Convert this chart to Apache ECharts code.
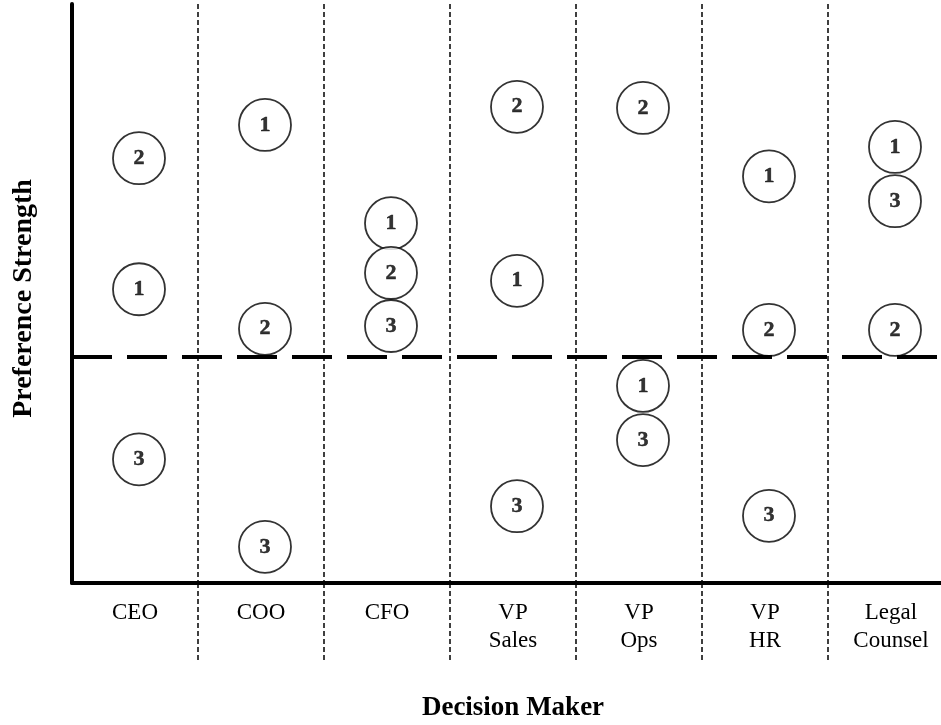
<!DOCTYPE html>
<html>
<head>
<meta charset="utf-8">
<script src="https://cdn.jsdelivr.net/npm/echarts@6/dist/echarts.min.js"></script>
<style>
  html, body { margin: 0; padding: 0; background: #fff; }
  #chart { width: 941px; height: 725px; }
</style>
</head>
<body>
<div id="chart"></div>
<script>
// decision makers along the x axis
var categories = ['CEO', 'COO', 'CFO', 'VP\nSales', 'VP\nOps', 'VP\nHR', 'Legal\nCounsel'];
// preference strength of each option per decision maker (0 = neutral line)
var option1 = [1.20, 4.11, 2.37, 1.35, -0.51, 3.20, 3.72];
var option2 = [3.52, 0.50, 1.49, 4.43, 4.41, 0.48, 0.48];
var option3 = [-1.81, -3.36, 0.55, -2.64, -1.47, -2.81, 2.76];
var neutral = 0;

var serif = 'Liberation Serif';

function makeSeries(name, values) {
    return {
        name: name,
        type: 'scatter',
        z: 3,
        symbol: 'circle',
        symbolSize: 52,
        symbolOffset: [4, 0],
        itemStyle: { color: '#fff', borderColor: '#000', borderWidth: 1.8 },
        label: {
            show: true,
            position: 'inside',
            formatter: name,
            color: '#000',
            fontFamily: serif,
            fontWeight: 'bold',
            fontSize: 22,
            textBorderColor: '#000',
            textBorderWidth: 0.5
        },
        emphasis: { disabled: true },
        data: values.map(function (v, i) { return [i, v]; })
    };
}

var chart = echarts.init(document.getElementById('chart'));

var option = {
    animation: false,
    backgroundColor: '#fff',
    grid: { left: 72, width: 882, top: 4, bottom: 142, outerBoundsMode: 'none', containLabel: false },
    xAxis: {
        type: 'category',
        data: categories,
        boundaryGap: true,
        name: 'Decision Maker',
        nameLocation: 'middle',
        nameGap: 112,
        nameTextStyle: { fontFamily: serif, fontWeight: 'bold', fontSize: 27, color: '#000' },
        axisLine: { show: true, onZero: false, lineStyle: { color: '#000', width: 4 } },
        axisTick: {
            show: true,
            length: 77,
            interval: function (i) { return i > 0; },
            lineStyle: { color: '#000', width: 1.5, type: [5, 3] }
        },
        axisLabel: {
            interval: 0,
            margin: 16,
            fontFamily: serif,
            fontSize: 23,
            lineHeight: 28,
            color: '#000'
        },
        splitLine: {
            show: true,
            interval: function (i) { return i > 0; },
            lineStyle: { color: '#000', width: 1.5, type: [5, 3] }
        }
    },
    yAxis: {
        type: 'value',
        min: -4,
        max: 6.25,
        name: 'Preference Strength',
        nameLocation: 'middle',
        nameGap: 34,
        nameTextStyle: { fontFamily: serif, fontWeight: 'bold', fontSize: 28, color: '#000', padding: [0, 10, 0, 0] },
        axisLine: { show: true, onZero: false, lineStyle: { color: '#000', width: 4 } },
        axisTick: { show: false },
        axisLabel: { show: false },
        splitLine: { show: false }
    },
    series: [
        {
            name: 'neutral',
            type: 'line',
            z: 1,
            data: [],
            markLine: {
                silent: true,
                symbol: 'none',
                label: { show: false },
                lineStyle: { color: '#000', width: 4, type: [40, 15] },
                data: [{ yAxis: neutral }]
            }
        },
        makeSeries('1', option1),
        makeSeries('2', option2),
        makeSeries('3', option3)
    ]
};

chart.setOption(option);
</script>
</body>
</html>
